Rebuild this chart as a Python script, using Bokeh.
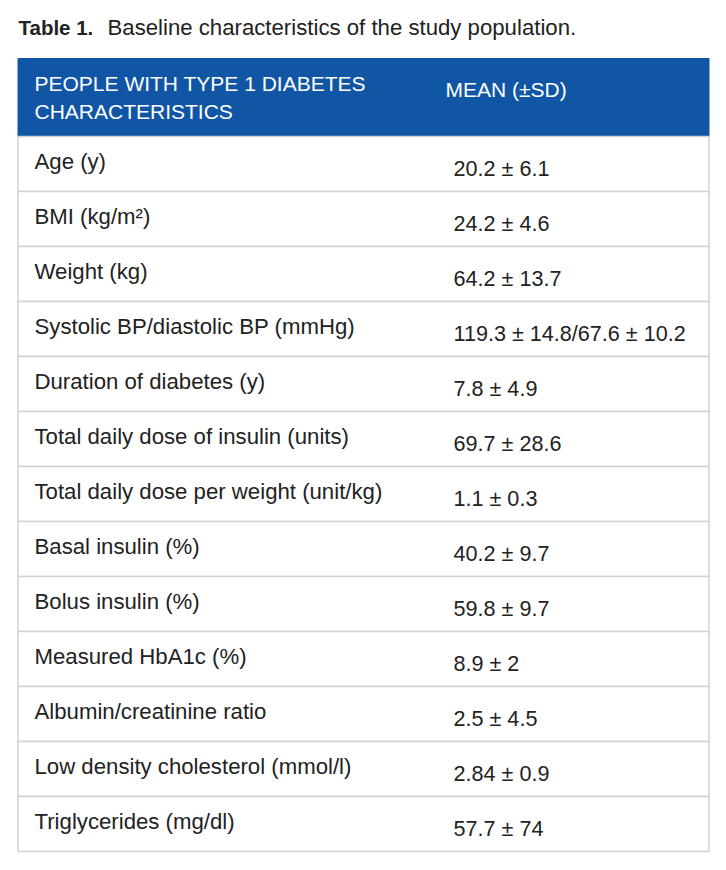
from bokeh.plotting import figure
from bokeh.models import Range1d, ColumnDataSource
from bokeh.core.properties import value
from bokeh.embed import file_html
from bokeh.resources import INLINE

title_bold = "Table 1."
title_text = "Baseline characteristics of the study population."
header_col1 = ["PEOPLE WITH TYPE 1 DIABETES", "CHARACTERISTICS"]
header_col2 = "MEAN (\u00b1SD)"
characteristics = [
    "Age (y)",
    "BMI (kg/m\u00b2)",
    "Weight (kg)",
    "Systolic BP/diastolic BP (mmHg)",
    "Duration of diabetes (y)",
    "Total daily dose of insulin (units)",
    "Total daily dose per weight (unit/kg)",
    "Basal insulin (%)",
    "Bolus insulin (%)",
    "Measured HbA1c (%)",
    "Albumin/creatinine ratio",
    "Low density cholesterol (mmol/l)",
    "Triglycerides (mg/dl)",
]
mean_sd = [
    "20.2 \u00b1 6.1",
    "24.2 \u00b1 4.6",
    "64.2 \u00b1 13.7",
    "119.3 \u00b1 14.8/67.6 \u00b1 10.2",
    "7.8 \u00b1 4.9",
    "69.7 \u00b1 28.6",
    "1.1 \u00b1 0.3",
    "40.2 \u00b1 9.7",
    "59.8 \u00b1 9.7",
    "8.9 \u00b1 2",
    "2.5 \u00b1 4.5",
    "2.84 \u00b1 0.9",
    "57.7 \u00b1 74",
]

W, H = 710, 854
FONT = "Liberation Sans"
p = figure(width=W, height=H, output_backend="svg", toolbar_location=None,
           x_range=Range1d(0, W), y_range=Range1d(H, 0), min_border=0)
p.axis.visible = False
p.grid.visible = False
p.outline_line_color = None
p.background_fill_color = "white"

left, right = 17.5, 708.5
head_top, head_bot = 58, 136
row_h = 55
n = len(characteristics)

# title
p.text(x=[18], y=[27], text=[title_bold], text_font=value(FONT), text_font_style="bold",
       text_font_size="20.5px", text_color="#222222", text_baseline="middle")
p.text(x=[107], y=[27], text=[title_text], text_font=value(FONT),
       text_font_size="22.2px", text_color="#222222", text_baseline="middle")

# header
p.quad(left=[left], right=[right], top=[head_top], bottom=[head_bot],
       fill_color="#1156a5", line_color="#1156a5")
p.text(x=[34, 34], y=[83, 111], text=header_col1, text_font=value(FONT),
       text_font_size="21px", text_color="white", text_baseline="middle")
p.text(x=[445], y=[89], text=[header_col2], text_font=value(FONT),
       text_font_size="21px", text_color="white", text_baseline="middle")

# rows
tops = [head_bot + i * row_h for i in range(n)]
bots = [t + row_h for t in tops]
src = ColumnDataSource(dict(
    top=tops, bottom=bots,
    ylab=[t + row_h / 2 - 2.5 for t in tops],
    yval=[t + row_h / 2 + 4 for t in tops],
    lab=characteristics, val=mean_sd,
))
p.quad(left=left, right=right, top="top", bottom="bottom", source=src,
       fill_color="white", line_color="#d2d2d2", line_width=1.5)
p.text(x=34, y="ylab", text="lab", source=src, text_font=value(FONT),
       text_font_size="22.2px", text_color="#222222", text_baseline="middle")
p.text(x=453, y="yval", text="val", source=src, text_font=value(FONT),
       text_font_size="21.6px", text_color="#222222", text_baseline="middle")

open("out.html", "w").write(file_html(p, INLINE))
